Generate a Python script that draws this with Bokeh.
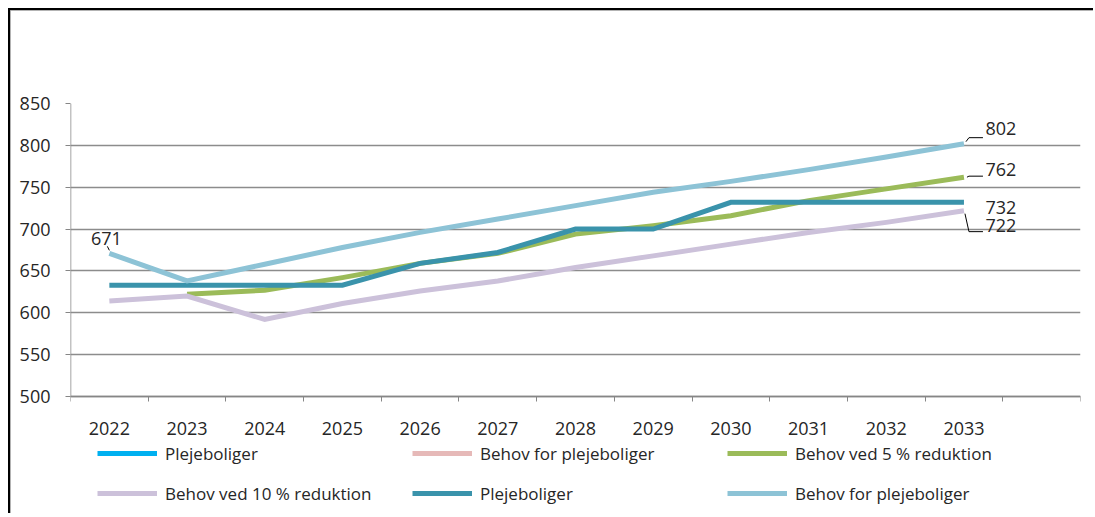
from bokeh.plotting import figure
from bokeh.models import FixedTicker, Legend, LegendItem, Range1d, ColumnDataSource
from bokeh.core.properties import value
from bokeh.embed import file_html
from bokeh.resources import INLINE

NaN = float("nan")

# ---------------- data ----------------
years = ["2022", "2023", "2024", "2025", "2026", "2027", "2028", "2029", "2030", "2031", "2032", "2033"]
y_ticks = [500, 550, 600, 650, 700, 750, 800, 850]

plejeboliger_a = [NaN]         # legend only (no visible data)
behov_a = [NaN]                # legend only (no visible data)
behov_5 = [NaN, 622, 627, 642, 659, 671, 694, 704, 716, 734, 748, 762]
behov_10 = [614, 620, 592, 611, 626, 638, 654, 668, 682, 696, 708, 722]
plejeboliger = [633, 633, 633, 633, 659, 672, 700, 700, 732, 732, 732, 732]
behov = [671, 638, 658, 678, 696, 712, 728, 744, 757, 771, 786, 802]

labels_legend = ["Plejeboliger", "Behov for plejeboliger", "Behov ved 5 % reduktion",
                 "Behov ved 10 % reduktion", "Plejeboliger", "Behov for plejeboliger"]
colors = ["#00B0F0", "#E6B9B8", "#9BBB59", "#CCC1DA", "#3A93AB", "#8DC3D6"]

n_slots = len(years) + 1
xs = [i + 0.5 for i in range(len(years))]

FONT = "Open Sans"
Y_MIN, Y_MAX = y_ticks[0], y_ticks[-1]
PX_PER_UNIT = 293 / (Y_MAX - Y_MIN)     # vertical scale of the value axis
FRAME_H = 410
y_start = Y_MAX - FRAME_H / PX_PER_UNIT

p = figure(frame_width=1010, frame_height=FRAME_H, output_backend="svg", toolbar_location=None,
           x_range=Range1d(0, n_slots), y_range=Range1d(y_start, Y_MAX),
           min_border_left=60, min_border_right=13, min_border_top=93, min_border_bottom=0)
p.margin = (8, 0, 0, 8)
p.styles = {"border-top": "2px solid black", "border-left": "2px solid black",
            "box-shadow": "inset 1px 1px 0 #9a9a9a"}
p.outline_line_color = None
p.background_fill_color = "white"
p.border_fill_color = "white"

# x axis drawn at value 500 inside the frame
xa = p.xaxis[0]
xa.fixed_location = Y_MIN
xa.ticker = FixedTicker(ticks=xs, minor_ticks=list(range(n_slots + 1)))
xa.major_label_overrides = {x: y for x, y in zip(xs, years)}
xa.major_tick_out = 0
xa.major_tick_in = 0
xa.minor_tick_out = 5
xa.minor_tick_in = 0
xa.minor_tick_line_color = "#868686"
xa.axis_line_color = "#868686"
xa.axis_line_width = 1.5
xa.major_label_standoff = 20
xa.major_label_text_font = FONT
xa.major_label_text_font_size = "18px"
xa.major_label_text_color = "#262626"

ya = p.yaxis[0]
ya.ticker = FixedTicker(ticks=y_ticks)
ya.major_tick_out = 5
ya.major_tick_in = 0
ya.minor_tick_line_color = None
ya.major_tick_line_color = "#868686"
ya.axis_line_color = None
ya.major_label_standoff = 15
ya.major_label_text_font = FONT
ya.major_label_text_font_size = "18px"
ya.major_label_text_color = "#262626"
# visible part of the value axis line (500..850)
p.segment(x0=[0], y0=[Y_MIN], x1=[0], y1=[Y_MAX], line_color="#868686", line_width=1.5)

p.xgrid.grid_line_color = None
p.ygrid.grid_line_color = "#8c8c8c"
p.ygrid.grid_line_width = 1.5

# series
series = [plejeboliger_a, behov_a, behov_5, behov_10, plejeboliger, behov]
renderers = []
for vals, col in zip(series, colors):
    src = ColumnDataSource(dict(x=xs[:len(vals)], y=vals))
    r = p.line("x", "y", source=src, line_color=col, line_width=5, line_join="miter")
    renderers.append(r)

# data labels
last = len(years) - 1
lab = [
    (xs[0], behov[0], -3, -15),
    (xs[last], behov[last], 37, -15),
    (xs[last], behov_5[last], 37, -8),
    (xs[last], plejeboliger[last], 37, 5),
    (xs[last], behov_10[last], 37, 15),
]
p.text(x=[a[0] for a in lab], y=[a[1] for a in lab], text=[str(a[1]) for a in lab],
       x_offset=[a[2] for a in lab], y_offset=[a[3] for a in lab],
       text_align="center", text_baseline="middle", text_font=value(FONT),
       text_font_size="18px", text_color="#262626")

# leader lines (offsets from the data points, in axis units)
ux = 1 / 77.7
uy = 1 / PX_PER_UNIT
lx = [[xs[0] + 0 * ux, xs[0] - 2 * ux],
      [xs[last] + 2 * ux, xs[last] + 5 * ux, xs[last] + 19 * ux],
      [xs[last] + 3 * ux, xs[last] + 5 * ux, xs[last] + 19 * ux],
      [xs[last] + 1 * ux, xs[last] + 5 * ux, xs[last] + 19 * ux]]
ly = [[behov[0] + 3 * uy, behov[0] + 7 * uy],
      [behov[last] + 2 * uy, behov[last] + 6 * uy, behov[last] + 6 * uy],
      [behov_5[last] + 0 * uy, behov_5[last] + 1 * uy, behov_5[last] + 1 * uy],
      [behov_10[last] - 3 * uy, behov_10[last] - 21 * uy, behov_10[last] - 21 * uy]]
p.multi_line(xs=lx, ys=ly, line_color="black", line_width=1)

# legend
items = [LegendItem(label=l, renderers=[r]) for l, r in zip(labels_legend, renderers)]
legend = Legend(items=items, ncols=3, location=(27, 5), orientation="horizontal",
                glyph_width=60, glyph_height=30, label_height=30, label_width=237,
                label_standoff=8, spacing=10, padding=0, margin=0,
                border_line_color=None, background_fill_alpha=0,
                label_text_font=FONT, label_text_font_size="17px",
                label_text_color="#262626")
p.add_layout(legend, "center")

open("out.html", "w").write(file_html(p, INLINE))
